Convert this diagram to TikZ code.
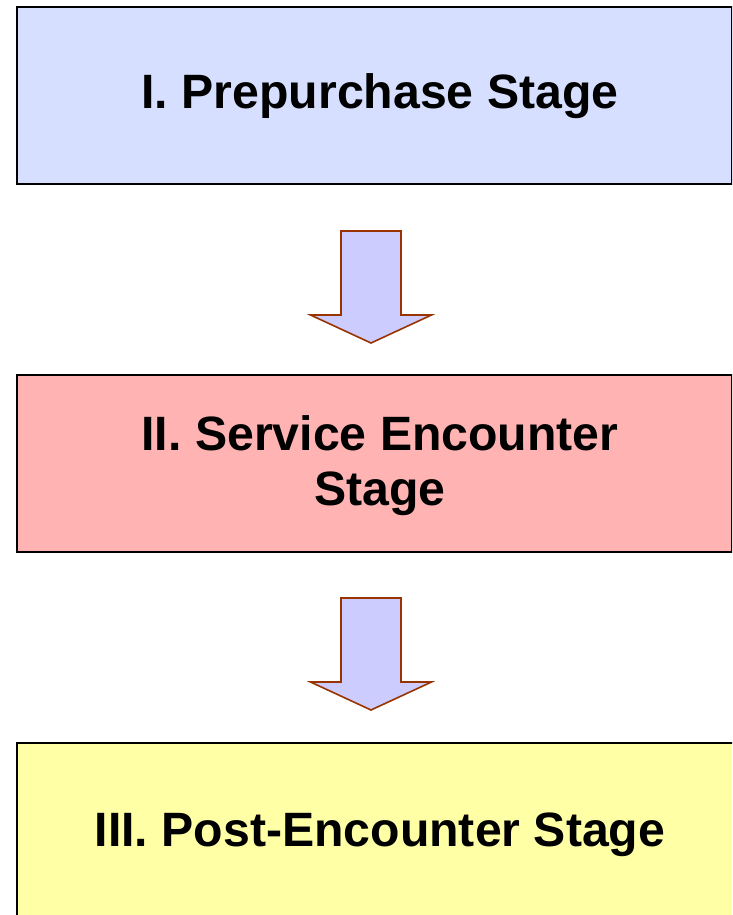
\documentclass[tikz,border=0pt]{standalone}
\usepackage{fontspec}
\setmainfont{Liberation Sans}
\definecolor{stageone}{HTML}{D6DFFF}
\definecolor{stagetwo}{HTML}{FFB3B3}
\definecolor{stagethree}{HTML}{FFFFA6}
\definecolor{arrowfill}{HTML}{CCCCFF}
\definecolor{arrowrim}{HTML}{993300}
\begin{document}
\begin{tikzpicture}[x=1pt,y=-1pt,
  stagebox/.style={draw=black, line width=1.6pt, inner sep=0pt, anchor=north west,
    minimum width=715pt, minimum height=177pt},
  stagetext/.style={font=\bfseries\fontsize{48.2}{55}\selectfont, align=center, inner sep=0pt},
  flowarrow/.style={draw=arrowrim, fill=arrowfill, line width=1.6pt, line join=miter},
  downarrow/.pic={\draw[flowarrow] (-30,0) -- (30,0) -- (30,84) -- (60.5,84)
      -- (0,112) -- (-60.5,84) -- (-30,84) -- cycle;}]
\clip (0,0) rectangle (732,915);
\fill[white] (0,0) rectangle (732,915);

% the three stages
\node[stagebox, fill=stageone] (s1) at (16,6) {};
\node[stagebox, fill=stagetwo] (s2) at (16,374) {};
\node[stagebox, fill=stagethree, minimum width=740pt] (s3) at (16,742) {};

\node[stagetext, anchor=base] (t1) at (380,109) {I. Prepurchase Stage};
\node[stagetext] (t2) at (380,466) {II. Service Encounter\\Stage};
\node[stagetext, anchor=base] (t3) at (380,846) {III. Post-Encounter Stage};

% block arrows between the stages
\pic (a1) at (371,231) {downarrow};
\pic (a2) at (371,598) {downarrow};
\end{tikzpicture}
\end{document}
